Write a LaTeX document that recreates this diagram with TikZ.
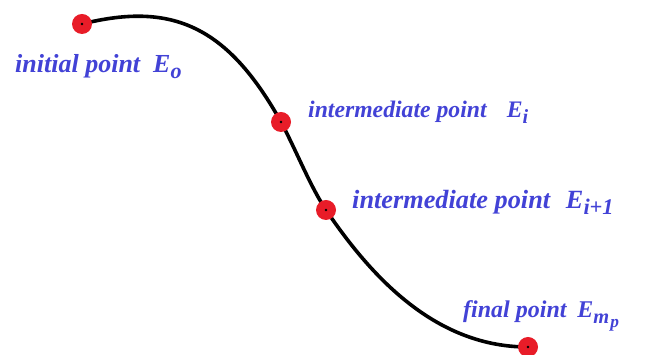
\documentclass[tikz,border=0pt]{standalone}
\usepackage{fontspec}
\setmainfont{Liberation Serif}
\definecolor{ptred}{RGB}{232,28,40}
\definecolor{lblblue}{RGB}{66,66,214}
\newcommand{\lowsub}[1]{\raisebox{-0.22em}{\scalebox{0.85}{#1}}}
\begin{document}
\begin{tikzpicture}[x=1pt,y=1pt,
  ptdot/.style={circle,fill=ptred,minimum size=20pt,inner sep=0pt},
  lbl/.style={anchor=base west,inner sep=0pt,text=lblblue},
  curve/.style={line width=3.6pt,black}]
\useasboundingbox (0,0) rectangle (645,355);
\coordinate (E0) at (82,331);
\coordinate (Ei) at (281,233);
\coordinate (Ei1) at (326,145);
\coordinate (Em) at (528,8);
\draw[curve] (E0) .. controls (172,353.5) and (227.5,329) .. (Ei)
  .. controls (296,205) and (310,169) .. (Ei1)
  .. controls (374,74) and (438,8) .. (Em);
\foreach \p in {E0,Ei,Ei1,Em}{
  \node[ptdot] (d\p) at (\p) {};
  \fill[black] (\p) circle (1.4pt);
}
\node[lbl,font=\fontsize{26}{30}\selectfont\bfseries\itshape] (L0) at (15,282) {initial point\hspace{0.5em}E\lowsub{o}};
\node[lbl,font=\fontsize{23.7}{28}\selectfont\bfseries\itshape] (Li) at (308,237) {intermediate point\hspace{0.85em}E\lowsub{i}};
\node[lbl,font=\fontsize{26.3}{30}\selectfont\bfseries\itshape] (Li1) at (352,146) {intermediate point\hspace{0.6em}E\lowsub{i+1}};
\node[lbl,font=\fontsize{24}{28}\selectfont\bfseries\itshape] (Lm) at (463,37) {final point\hspace{0.45em}E\lowsub{m\hspace{0.05em}\lowsub{p}}};
\end{tikzpicture}
\end{document}
